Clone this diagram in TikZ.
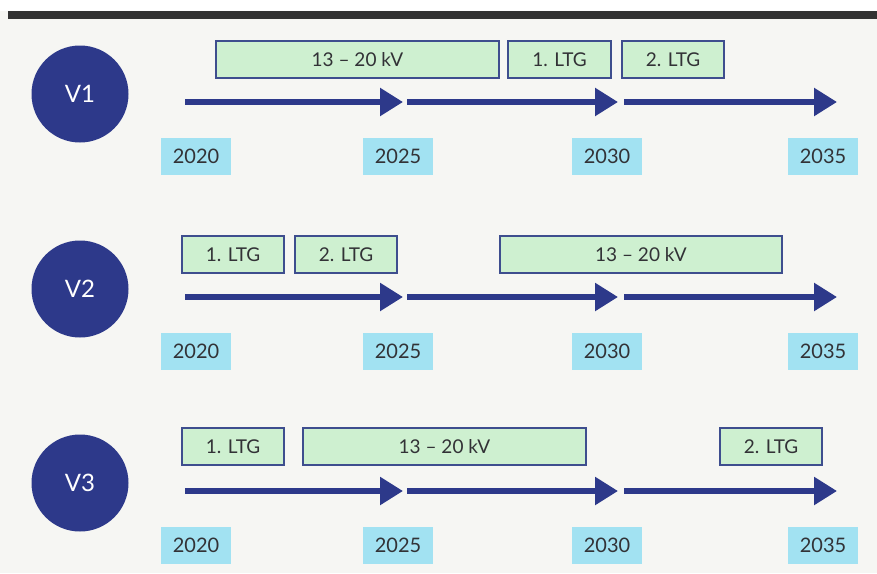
\documentclass[tikz,border=0pt]{standalone}
\usepackage{fontspec}
\setmainfont{Lato}
\usepackage{tikz}
\usetikzlibrary{arrows.meta}

\definecolor{navy}{RGB}{45,57,138}
\definecolor{mint}{RGB}{206,240,208}
\definecolor{rim}{RGB}{62,78,142}
\definecolor{sky}{RGB}{162,226,242}
\definecolor{ink}{RGB}{50,50,54}
\definecolor{paper}{RGB}{246,246,243}

\begin{document}
\begin{tikzpicture}[x=1pt,
            y=-1pt,
            >={Triangle[length=23pt,width=27pt]},
            ver/.style={circle,fill=navy,minimum size=97pt,inner sep=0pt,
                        text=white,font=\fontsize{24}{28}\selectfont},
            yr/.style={fill=sky,minimum width=70pt,minimum height=37pt,
                       inner sep=0pt,text=ink,font=\fontsize{20}{24}\selectfont},
            phase/.style={draw=rim,line width=1.1pt,fill=mint,minimum height=37pt,
                          inner sep=0pt,text=ink,font=\fontsize{19}{22}\selectfont},
            flow/.style={->,draw=navy,line width=5.5pt}]

        % page
        \useasboundingbox (0,0) rectangle (877,573);
        \fill[paper] (0,11) rectangle (877,573);
        \fill[black!80] (8,11) rectangle (877,19);

        % three variants, one row each
        \foreach \r/\dy in {1/0,2/195,3/389} {
            \begin{scope}[shift={(0,\dy)}]
                \node[ver] (v\r)  at (80,94)  {V\r};
                \node[yr]  (y\r a) at (196,156) {2020};
                \node[yr]  (y\r b) at (398,156) {2025};
                \node[yr]  (y\r c) at (607,156) {2030};
                \node[yr]  (y\r d) at (823,156) {2035};
                \coordinate (s\r a) at (185,102);
                \coordinate (e\r a) at (403,102);
                \coordinate (s\r b) at (407,102);
                \coordinate (e\r b) at (618,102);
                \coordinate (s\r c) at (624,102);
                \coordinate (e\r c) at (837,102);
                \path (s\r a) edge[flow] (e\r a)
                      (s\r b) edge[flow] (e\r b)
                      (s\r c) edge[flow] (e\r c);
            \end{scope}
        }

        % V1
        \node[phase,minimum width=283pt] (kv1) at (357.5,59.5) {13 – 20 kV};
        \node[phase,minimum width=103pt] (l1a) at (559.5,59.5) {1. LTG};
        \node[phase,minimum width=102pt] (l1b) at (673,59.5)   {2. LTG};

        % V2
        \node[phase,minimum width=102pt] (l2a) at (233,254.5) {1. LTG};
        \node[phase,minimum width=102pt] (l2b) at (346,254.5) {2. LTG};
        \node[phase,minimum width=282pt] (kv2) at (641,254.5) {13 – 20 kV};

        % V3
        \node[phase,minimum width=102pt] (l3a) at (233,446.5)   {1. LTG};
        \node[phase,minimum width=283pt] (kv3) at (444.5,446.5) {13 – 20 kV};
        \node[phase,minimum width=102pt] (l3b) at (771,446.5)   {2. LTG};

    \end{tikzpicture}
\end{document}
